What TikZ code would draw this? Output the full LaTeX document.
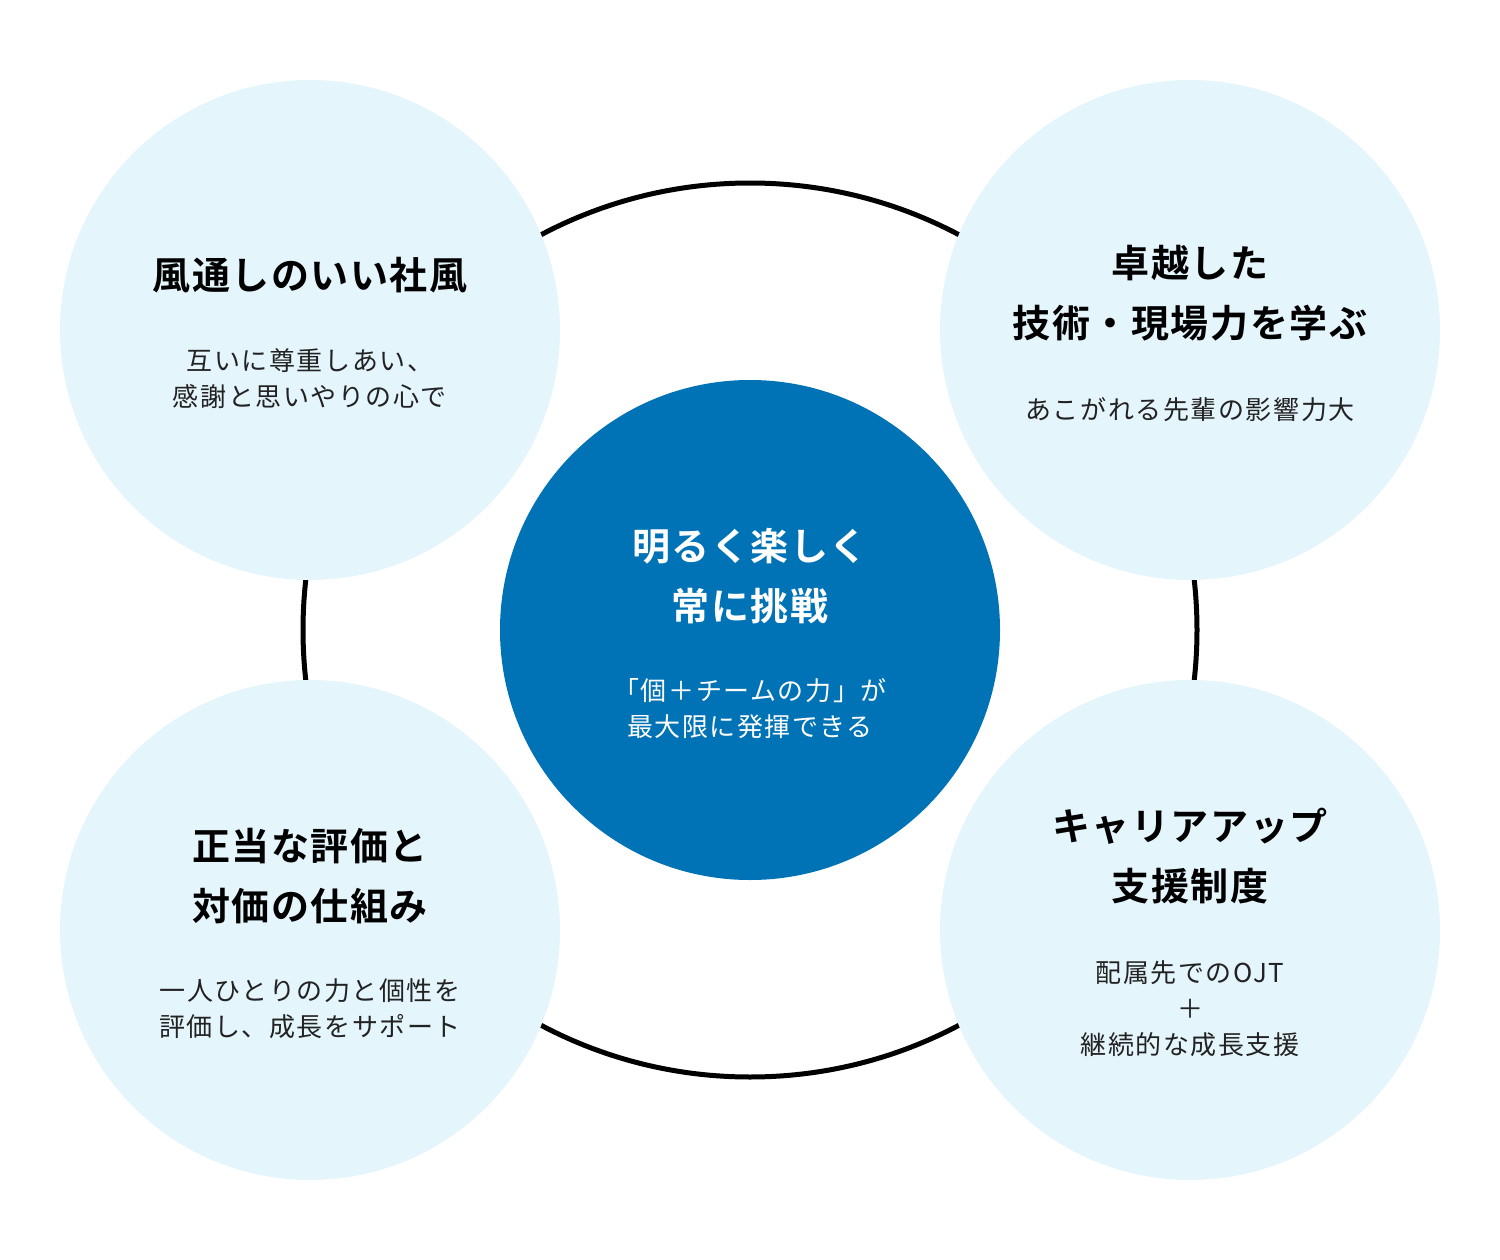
\documentclass[tikz,border=0pt]{standalone}
\usepackage{fontspec}
\setmainfont{Noto Sans CJK JP}
\newfontfamily\midashi[LetterSpace=4]{Noto Sans CJK JP Bold}
\newfontfamily\honbun[LetterSpace=6]{Noto Sans CJK JP}
\definecolor{sora}{HTML}{E5F5FC}
\definecolor{ai}{HTML}{0072B6}
\definecolor{sumi}{HTML}{222222}
\begin{document}
\begin{tikzpicture}[x=1pt,y=-1pt,
	petal/.style={circle,fill=sora,minimum size=500pt,inner sep=0pt},
	hub/.style={circle,fill=ai,minimum size=500pt,inner sep=0pt},
	title/.style={align=center,inner sep=0pt,font=\midashi\fontsize{38pt}{60pt}\selectfont},
	body/.style={align=center,inner sep=0pt,text=sumi,font=\honbun\fontsize{26pt}{36pt}\selectfont}]
	\useasboundingbox (0,0) rectangle (1500,1260);
	\draw[line width=5pt] (750,630) circle (447);
	\foreach \n/\x/\y in {kaze/310/330,waza/1190/330,hyoka/310/930,shien/1190/930}
	\node[petal] (\n) at (\x,\y) {};
	\node[hub] (core) at (750,630) {};
	% titles
	\node[title] (kazeT) at (310,275) {風通しのいい社風};
	\node[title] (wazaT) at (1190,293) {卓越した\\技術・現場力を学ぶ};
	\node[title] (hyokaT) at (310,876) {正当な評価と\\対価の仕組み};
	\node[title] (shienT) at (1190,856) {キャリアアップ\\支援制度};
	\node[title,text=white] (coreT) at (750,576) {明るく楽しく\\常に挑戦};
	% texts
	\node[body] (kazeB) at (310,379) {互いに尊重しあい、\\感謝と思いやりの心で};
	\node[body] (wazaB) at (1190,410) {あこがれる先輩の影響力大};
	\node[body] (hyokaB) at (310,1009) {一人ひとりの力と個性を\\評価し、成長をサポート};
	\node[body] (shienB) at (1190,1009) {配属先でのOJT\\＋\\継続的な成長支援};
	\node[body,text=white] (coreB) at (750,709) {「個＋チームの力」が\\最大限に発揮できる};
\end{tikzpicture}
\end{document}
